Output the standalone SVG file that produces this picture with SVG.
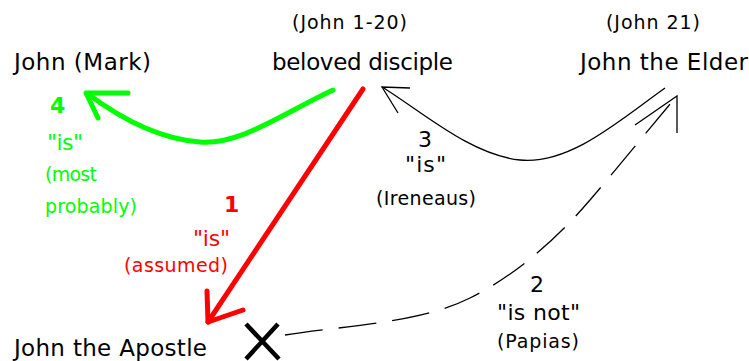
<svg xmlns="http://www.w3.org/2000/svg" width="749" height="361" viewBox="0 0 749 361">
<style>
text{font-family:"DejaVu Sans","Liberation Sans",sans-serif;}
.big{font-size:23px;fill:#000;}
.mid{font-size:22px;}
.sm{font-size:19px;}
.num{font-size:22px;font-weight:bold;}
.g{fill:#00ff00;}
.r{fill:#ff0000;}
.k{fill:#000;}
.thin{fill:none;stroke:#000;stroke-width:1.3;}
</style>
<rect width="749" height="361" fill="#fff"/>
<g id="connectors">
<g id="c4" fill="none" stroke="#00ff00" stroke-width="5" stroke-linecap="round" stroke-linejoin="round">
<path d="M333,90 C 280,115 240,145 200,142 C 160,139 120,118 88,94"/>
<path d="M128,93 L86,93 L98,118"/>
</g>
<g id="c1" fill="none" stroke="#ff0000" stroke-width="5" stroke-linecap="round" stroke-linejoin="round">
<path d="M363,89 L208,322"/>
<path d="M207,291 L208,322 L243,310"/>
</g>
<g id="c3" class="thin">
<path d="M665,88 C 620,120 570,165 520,160 C 470,155 420,110 382,87"/>
<path d="M410,88 L382,87 L398,113"/>
</g>
<g id="c2" class="thin">
<path d="M285,335 C 350,325 420,323 470,298 S 560,235 590,200 S 652,125 677,96" stroke-dasharray="38 16"/>
<path d="M635,125 L677,96 L677,133"/>
</g>
</g>
<g id="n-mark"><text class="big" x="14" y="70" textLength="137">John (Mark)</text></g>
<g id="n-beloved">
<text class="sm k" x="292" y="29" textLength="115">(John 1-20)</text>
<text class="big" x="272" y="70" textLength="181">beloved disciple</text>
</g>
<g id="n-elder">
<text class="sm k" x="606" y="29" textLength="94">(John 21)</text>
<text class="big" x="580" y="70" textLength="168">John the Elder</text>
</g>
<g id="n-apostle">
<text class="big" x="14" y="356" textLength="193">John the Apostle</text>
<g stroke="#000" stroke-width="4.5" stroke-linecap="butt">
<path d="M246,324 L279,359 M278,324 L246,359"/>
</g>
</g>
<g id="l4">
<text class="num g" x="50" y="113">4</text>
<text class="mid g" x="47" y="150" textLength="36">"is"</text>
<text class="sm g" x="45" y="181" textLength="52">(most</text>
<text class="sm g" x="45" y="213" textLength="92">probably)</text>
</g>
<g id="l1">
<text class="num r" x="224" y="212">1</text>
<text class="mid r" x="193" y="246" textLength="37">"is"</text>
<text class="sm r" x="124" y="272" textLength="104">(assumed)</text>
</g>
<g id="l3">
<text class="mid k" x="418" y="147" font-size="23">3</text>
<text class="mid k" x="405" y="172" textLength="41">"is"</text>
<text class="sm k" x="376" y="205" textLength="100">(Ireneaus)</text>
</g>
<g id="l2">
<text class="mid k" x="530" y="292" font-size="23">2</text>
<text class="mid k" x="497" y="320" textLength="83">"is not"</text>
<text class="sm k" x="497" y="348" textLength="82">(Papias)</text>
</g>
</svg>
